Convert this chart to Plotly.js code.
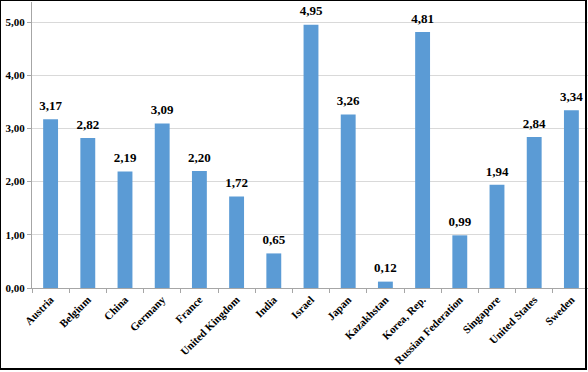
<!DOCTYPE html>
<html>
<head>
<meta charset="utf-8">
<script src="https://cdn.plot.ly/plotly-3.0.1.min.js"></script>
<style>
html,body{margin:0;padding:0;background:#fff;overflow:hidden;width:588px;height:372px;}
#chart{position:absolute;left:0;top:0;}
#frame{position:absolute;left:0;top:0;width:584px;height:367px;border-left:1px solid #000;border-top:1px solid #000;border-right:2px solid #000;border-bottom:2px solid #000;pointer-events:none;}
</style>
</head>
<body>
<div id="chart"></div>
<div id="frame"></div>
<script>
const countries = ["Austria","Belgium","China","Germany","France","United Kingdom","India","Israel","Japan","Kazakhstan","Korea, Rep.","Russian Federation","Singapore","United States","Sweden"];
const values = [3.17,2.82,2.19,3.09,2.20,1.72,0.65,4.95,3.26,0.12,4.81,0.99,1.94,2.84,3.34];
const yTicks = [0,1,2,3,4,5];
const yTickLabels = ["0,00","1,00","2,00","3,00","4,00","5,00"];

const serif = "'Liberation Serif', 'Times New Roman', serif";
const bars = {
  type: 'bar',
  x: countries,
  y: values,
  marker: {color: '#5B9BD5'},
  hoverinfo: 'none'
};
const labels = {
  type: 'scatter',
  mode: 'markers+text',
  x: countries,
  y: values,
  marker: {size: 8, opacity: 0},
  text: values.map(v => v.toFixed(2).replace('.', ',')),
  textposition: 'top center',
  textfont: {family: serif, size: 13, color: '#000', weight: 'bold'},
  cliponaxis: false,
  hoverinfo: 'none'
};
const layout = {
  width: 600, height: 372,
  margin: {l: 32, r: 10, t: 2, b: 84},
  paper_bgcolor: '#fff', plot_bgcolor: '#fff',
  bargap: 0.6,
  showlegend: false,
  font: {family: serif, color: '#000'},
  xaxis: {
    type: 'category',
    range: [-0.5, countries.length - 0.5],
    tickangle: -45,
    tickfont: {family: serif, size: 11, color: '#000', weight: 'bold'},
    ticks: 'outside', ticklen: 4, tickcolor: '#a6a6a6',
    tickson: 'boundaries',
    showline: true, linecolor: '#a6a6a6', linewidth: 1,
    showgrid: false, zeroline: false
  },
  yaxis: {
    range: [0, 5.376],
    tickvals: yTicks,
    ticktext: yTickLabels,
    tickfont: {family: serif, size: 11, color: '#000', weight: 'bold'},
    ticks: 'outside', ticklen: 4, tickcolor: '#a6a6a6',
    showline: true, linecolor: '#a6a6a6', linewidth: 1,
    showgrid: true, gridcolor: '#d9d9d9', gridwidth: 1,
    zeroline: false
  }
};
Plotly.newPlot('chart', [bars, labels], layout, {displayModeBar: false, staticPlot: true});
</script>
</body>
</html>
